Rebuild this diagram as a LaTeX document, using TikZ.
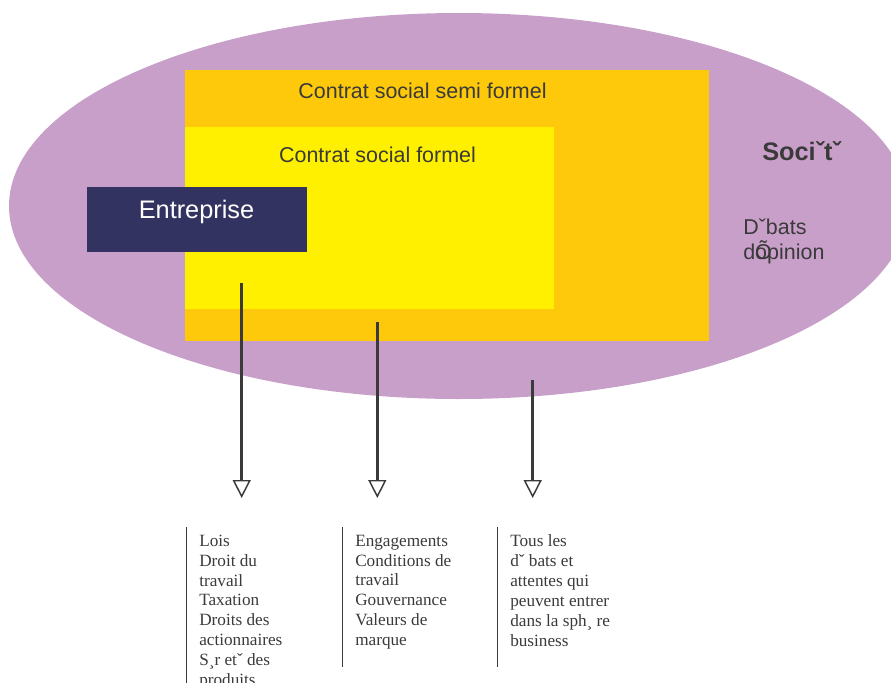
\documentclass[tikz,border=0pt]{standalone}
\usepackage{fontspec}
\setmainfont{Liberation Serif}
\setsansfont{Liberation Sans}
\usetikzlibrary{positioning, arrows.meta, shapes.geometric}
\definecolor{societe}{RGB}{200,159,201}
\definecolor{semiformel}{RGB}{253,201,10}
\definecolor{formel}{RGB}{255,240,0}
\definecolor{entreprise}{RGB}{51,51,98}
\definecolor{texte}{RGB}{58,58,58}

\begin{document}
\begin{tikzpicture}[x=0.75pt, y=-0.75pt,
    zone/.style={draw=none, inner sep=0pt, anchor=north west},
    titre/.style={font=\sffamily\fontsize{16.1}{19}\selectfont, text=texte},
    fleche/.style={draw=texte, line width=2pt, -{Triangle[open, width=13.5pt, length=13.5pt, line width=1.1pt, fill=white]}},
    liste/.style={anchor=north west, inner sep=0pt, align=left, text=texte, font=\fontsize{12.9}{14.9}\selectfont},
    cadre/.style={draw=texte, line width=0.8pt}]
    \useasboundingbox (0,0) rectangle (891,682);
    \clip (0,0) rectangle (891,682);

    % zones
    \node[ellipse, fill=societe, draw=none, minimum width=674.7pt, minimum height=289.5pt] (soc) at (458.8,206) {};
    \node[zone, fill=semiformel, minimum width=393pt, minimum height=203.3pt] (semi) at (185,70) {};
    \node[zone, fill=formel, minimum width=276.8pt, minimum height=136.5pt] (form) at (185,127) {};
    \node[zone, fill=entreprise, minimum width=164.6pt, minimum height=48.4pt] (ent) at (87,187) {};

    % textes
    \node[titre, anchor=base] (tsemi) at (422.5,98.5) {Contrat social semi formel};
    \node[titre, anchor=base] (tform) at (377.5,162.5) {Contrat social formel};
    \node[anchor=base, text=white, font=\sffamily\fontsize{19}{22}\selectfont] (tent) at (196.5,218.3) {Entreprise};
    \node[anchor=base west, inner sep=0pt, text=texte, font=\sffamily\bfseries\fontsize{19}{22}\selectfont] (tsoc) at (762,160.7) {Sociˇtˇ};
    \node[titre, anchor=base west, inner sep=0pt] (deb) at (743,234) {Dˇbats};
    \node[titre, anchor=base west, inner sep=0pt] (opi) at (743,259) {d\rlap{Õ}opinion};

    % fleches
    \coordinate (d1) at (241.7,283);
    \coordinate (f1) at (241.7,498);
    \coordinate (d2) at (377.3,322);
    \coordinate (f2) at (377.3,498);
    \coordinate (d3) at (532.7,380);
    \coordinate (f3) at (532.7,498);
    \draw[fleche] (d1) -- (f1);
    \draw[fleche] (d2) -- (f2);
    \draw[fleche] (d3) -- (f3);

    % listes
    \node[liste] (lois) at (199,534.6) {Lois\\Droit du\\travail\\Taxation\\Droits des\\actionnaires\\S¸r etˇ des\\produits};
    \node[liste] (eng) at (355,534.6) {Engagements\\Conditions de\\travail\\Gouvernance\\Valeurs de\\marque};
    \node[liste] (tous) at (510,534.6) {Tous les\\dˇ bats et\\attentes qui\\peuvent entrer\\dans la sph¸ re\\business};
    \draw[cadre] (186.7,527) -- (186.7,690);
    \draw[cadre] (342.3,527) -- (342.3,667);
    \draw[cadre] (497.5,527) -- (497.5,667);
\end{tikzpicture}
\end{document}
